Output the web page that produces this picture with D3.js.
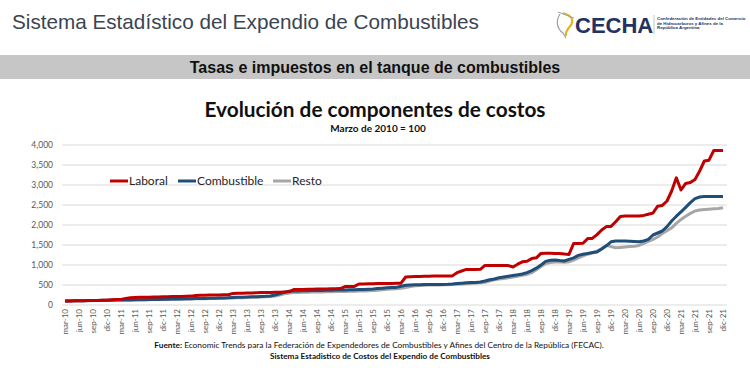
<!DOCTYPE html>
<html>
<head>
<meta charset="utf-8">
<script src="https://cdn.jsdelivr.net/npm/d3@7"></script>
<style>
  body { margin: 0; background: #fff; }
  svg { display: block; }
</style>
</head>
<body>
<svg id="chart" width="750" height="381"></svg>
<script>
// months mar-10 .. dic-21, quarterly labels
const meses = ["ene", "feb", "mar", "abr", "may", "jun", "jul", "ago", "sep", "oct", "nov", "dic"];
const anios = [10, 11, 12, 13, 14, 15, 16, 17, 18, 19, 20, 21];

const categorias = [];
anios.forEach(a => meses.forEach((m, k) => {
  if (a === 10 && k < 2) return;
  categorias.push(`${m}-${a}`);
}));

const laboral = [
  100, 102, 104, 106, 108, 110, 112, 114, 116, 118,
  130, 135, 140, 165, 180, 190, 192, 194, 196, 198, 200, 205,
  208, 210, 212, 215, 218, 222, 240, 242, 245, 248, 250, 252,
  255, 258, 290, 292, 295, 300, 302, 305, 310, 312, 315, 318,
  320, 325, 330, 385, 388, 390, 392, 395, 398, 400, 402, 405,
  408, 410, 460, 462, 465, 525, 528, 530, 532, 535, 538, 540,
  540, 542, 545, 700, 705, 710, 715, 718, 720, 722, 725, 725,
  725, 728, 808, 850, 890, 890, 890, 892, 990, 990, 990, 990,
  990, 985, 950, 1020, 1080, 1095, 1160, 1180, 1290, 1295, 1295, 1290,
  1290, 1275, 1265, 1540, 1540, 1545, 1660, 1665, 1760, 1875, 1960, 1965,
  2080, 2210, 2225, 2225, 2225, 2225, 2240, 2270, 2300, 2470, 2490, 2600,
  2850, 3180, 2875, 3040, 3060, 3140, 3350, 3600, 3620, 3860, 3865, 3865
];

const combustible = [
  100, 102, 104, 106, 108, 110, 112, 114, 116, 118,
  120, 122, 124, 126, 128, 130, 132, 134, 136, 138, 140, 142,
  145, 147, 150, 152, 155, 158, 160, 162, 165, 168, 170, 172,
  175, 180, 188, 192, 196, 200, 204, 208, 212, 216, 225, 250,
  280, 320, 345, 350, 352, 355, 358, 360, 362, 365, 368, 370,
  372, 375, 378, 380, 382, 385, 390, 395, 400, 410, 420, 430,
  435, 440, 470, 495, 500, 505, 508, 510, 512, 514, 515, 515,
  518, 525, 535, 545, 555, 560, 560, 575, 600, 630, 650, 680,
  700, 720, 740, 755, 775, 810, 860, 920, 1000, 1090, 1120, 1125,
  1110, 1100, 1140, 1180, 1240, 1270, 1290, 1310, 1325, 1400, 1480, 1580,
  1600, 1600, 1600, 1595, 1590, 1580, 1600, 1640, 1750, 1800, 1850, 1960,
  2100, 2220, 2330, 2440, 2560, 2660, 2700, 2710, 2710, 2710, 2710, 2710
];

const resto = [
  100, 101, 103, 105, 107, 109, 111, 113, 115, 117,
  118, 120, 122, 124, 126, 128, 130, 132, 134, 136, 138, 140,
  142, 144, 146, 148, 150, 152, 154, 156, 158, 160, 162, 165,
  168, 172, 176, 180, 184, 188, 192, 196, 200, 205, 212, 225,
  250, 280, 300, 310, 315, 318, 320, 322, 325, 328, 330, 332,
  335, 338, 340, 342, 345, 348, 352, 356, 360, 370, 380, 395,
  400, 405, 420, 440, 460, 480, 490, 495, 498, 500, 502, 505,
  508, 512, 518, 525, 532, 540, 548, 555, 570, 600, 630, 650,
  660, 680, 700, 720, 745, 765, 810, 880, 960, 1040, 1060, 1075,
  1075, 1070, 1080, 1120, 1180, 1230, 1270, 1300, 1350, 1410, 1490, 1460,
  1430, 1440, 1450, 1460, 1470, 1490, 1540, 1590, 1640, 1700, 1790, 1860,
  1930, 2040, 2140, 2220, 2290, 2350, 2375, 2385, 2395, 2405, 2415, 2430
];

const series = [
  { nombre: "Laboral", valores: laboral, color: "#c00000" },
  { nombre: "Combustible", valores: combustible, color: "#1f4e79" },
  { nombre: "Resto", valores: resto, color: "#a6a6a6" }
];

const yTicks = d3.range(0, 4001, 500);

const svg = d3.select("#chart");
const chartFont = "Lato, 'Open Sans', sans-serif";

// header
svg.append("text")
  .attr("x", 12).attr("y", 29)
  .attr("font-family", "'Liberation Sans', Arial, sans-serif")
  .attr("font-size", 20.7)
  .attr("fill", "#3b4452")
  .text("Sistema Estadístico del Expendio de Combustibles");

// logo
const logo = svg.append("g");
logo.append("path")
  .attr("d", "M560,14 C556,20 556,28 563,33 L566,38")
  .attr("fill", "none").attr("stroke", "#9aa0a8").attr("stroke-width", 1.2);
logo.append("path")
  .attr("d", "M563,13 C572,16 574,20 571,25 C568,29 565,31 566,36")
  .attr("fill", "none").attr("stroke", "#e6b422").attr("stroke-width", 2.2);
logo.append("path")
  .attr("d", "M558,12 L574,18")
  .attr("fill", "none").attr("stroke", "#9aa0a8").attr("stroke-width", 1);
logo.append("text")
  .attr("x", 575).attr("y", 33)
  .attr("font-family", "'Liberation Sans', Arial, sans-serif")
  .attr("font-weight", "bold")
  .attr("font-size", 22)
  .attr("fill", "#23325f")
  .text("CECHA");
logo.append("line")
  .attr("x1", 654).attr("x2", 654).attr("y1", 15).attr("y2", 34)
  .attr("stroke", "#9aa0a8").attr("stroke-width", 0.6);
["Confederación de Entidades del Comercio", "de Hidrocarburos y Afines de la", "República Argentina"]
  .forEach((t, i) => {
    logo.append("text")
      .attr("x", 657).attr("y", 20 + i * 4.6)
      .attr("font-family", "'Liberation Sans', Arial, sans-serif")
      .attr("font-weight", "bold")
      .attr("font-size", 4.4)
      .attr("fill", "#23325f")
      .text(t);
  });

// grey band
svg.append("rect")
  .attr("x", 0).attr("y", 55).attr("width", 750).attr("height", 24)
  .attr("fill", "#c6c6c6");
svg.append("text")
  .attr("x", 375).attr("y", 73)
  .attr("text-anchor", "middle")
  .attr("font-family", "'Liberation Sans', Arial, sans-serif")
  .attr("font-weight", "bold")
  .attr("font-size", 16)
  .attr("fill", "#111")
  .text("Tasas e impuestos en el tanque de combustibles");

// chart titles
svg.append("text")
  .attr("x", 375).attr("y", 117)
  .attr("text-anchor", "middle")
  .attr("font-family", chartFont)
  .attr("font-weight", "bold")
  .attr("font-size", 20.8)
  .attr("fill", "#111")
  .text("Evolución de componentes de costos");
svg.append("text")
  .attr("x", 378).attr("y", 132)
  .attr("text-anchor", "middle")
  .attr("font-family", chartFont)
  .attr("font-weight", "bold")
  .attr("font-size", 10)
  .attr("fill", "#111")
  .text("Marzo de 2010 = 100");

// scales
const x = d3.scalePoint().domain(categorias).range([65, 723]);
const y = d3.scaleLinear().domain([0, 4000]).range([305, 145]);

// gridlines
svg.append("g")
  .selectAll("line")
  .data(yTicks)
  .join("line")
  .attr("x1", 62).attr("x2", 727)
  .attr("y1", d => y(d)).attr("y2", d => y(d))
  .attr("stroke", "#d9d9d9").attr("stroke-width", 1);

// y axis
const yAxis = svg.append("g")
  .attr("transform", "translate(55,0)")
  .call(d3.axisLeft(y).tickValues(yTicks).tickSize(0).tickPadding(2).tickFormat(d3.format(",")));
yAxis.select(".domain").remove();
yAxis.selectAll("text")
  .attr("font-family", chartFont)
  .attr("font-size", 8.5)
  .attr("fill", "#595959");

// x axis
const xAxis = svg.append("g")
  .attr("transform", "translate(0,309)")
  .call(d3.axisBottom(x)
    .tickValues(categorias.filter((d, i) => i % 3 === 0))
    .tickSize(0));
xAxis.select(".domain").remove();
xAxis.selectAll("text")
  .attr("font-family", chartFont)
  .attr("font-size", 8)
  .attr("fill", "#595959")
  .attr("text-anchor", "end")
  .attr("dy", "0.32em")
  .attr("transform", "rotate(-90)")
  .attr("x", 0).attr("y", 0);

// lines (grey drawn first, red last)
const line = d3.line()
  .x((d, i) => x(categorias[i]))
  .y(d => y(d));

svg.append("g")
  .selectAll("path")
  .data(series.slice().reverse())
  .join("path")
  .attr("d", d => line(d.valores))
  .attr("fill", "none")
  .attr("stroke", d => d.color)
  .attr("stroke-width", 3)
  .attr("stroke-linejoin", "round");

// legend
const legendX = [110, 178, 273];
const legend = svg.append("g")
  .selectAll("g")
  .data(series)
  .join("g")
  .attr("transform", (d, i) => `translate(${legendX[i]},181)`);
legend.append("line")
  .attr("x1", 0).attr("x2", 18)
  .attr("stroke", d => d.color).attr("stroke-width", 3);
legend.append("text")
  .attr("x", 19).attr("dy", "0.35em")
  .attr("font-family", chartFont)
  .attr("font-size", 12)
  .attr("fill", "#262626")
  .text(d => d.nombre);

// footer
const fuente = svg.append("text")
  .attr("x", 379).attr("y", 348)
  .attr("text-anchor", "middle")
  .attr("font-family", chartFont)
  .attr("font-size", 8.3)
  .attr("fill", "#111");
fuente.append("tspan").attr("font-weight", "bold").text("Fuente: ");
fuente.append("tspan").text("Economic Trends para la Federación de Expendedores de Combustibles y Afines del Centro de la República (FECAC).");

svg.append("text")
  .attr("x", 380).attr("y", 359)
  .attr("text-anchor", "middle")
  .attr("font-family", chartFont)
  .attr("font-weight", "bold")
  .attr("font-size", 8.2)
  .attr("fill", "#111")
  .text("Sistema Estadistico de Costos del Expendio de Combustibles");
</script>
</body>
</html>
